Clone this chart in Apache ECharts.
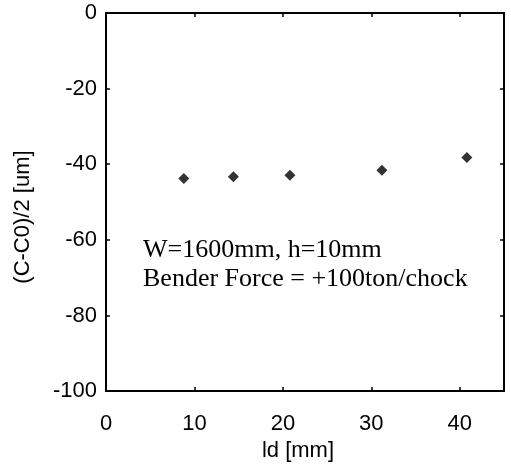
<!DOCTYPE html>
<html>
<head>
<meta charset="utf-8">
<script src="https://cdn.jsdelivr.net/npm/echarts@6/dist/echarts.min.js"></script>
<style>html,body{margin:0;padding:0;background:#fff}#c{width:511px;height:467px}</style>
</head>
<body>
<div id="c"></div>
<script>
var ldValues = [8.8, 14.4, 20.8, 31.2, 40.8];
var deflection = [-43.8, -43.3, -42.9, -41.6, -38.2];
var xTicks = [0, 10, 20, 30, 40];
var yTicks = [0, -20, -40, -60, -80, -100];
var noteLines = ['W=1600mm, h=10mm', 'Bender Force = +100ton/chock'];
var xName = 'ld [mm]';
var yName = '(C-C0)/2 [um]';

var chart = echarts.init(document.getElementById('c'));
var sans = 'Liberation Sans, Arial, sans-serif';
var lineStyle = {color: '#000', width: 2};
var tickStyle = {show: true, inside: true, length: 4, lineStyle: {color: '#000', width: 1.5}};
var pts = ldValues.map(function (x, i) { return [x, deflection[i]]; });

chart.setOption({
  animation: false,
  backgroundColor: '#fff',
  grid: {left: 106, right: 7, top: 13, bottom: 75},
  xAxis: [{
    type: 'value', min: 0, max: 45, interval: 10, position: 'bottom',
    name: xName, nameLocation: 'middle', nameGap: 48,
    nameTextStyle: {fontFamily: sans, fontSize: 22, color: '#000', padding: [0, 14, 0, 0]},
    axisLine: {show: true, onZero: false, lineStyle: lineStyle},
    axisTick: tickStyle,
    splitLine: {show: false},
    axisLabel: {fontFamily: sans, fontSize: 22, color: '#000', margin: 22,
      showMaxLabel: false,
      formatter: function (v) { return xTicks.indexOf(v) >= 0 ? String(v) : ''; }}
  }, {
    type: 'value', min: 0, max: 45, interval: 10, position: 'top',
    axisLine: {show: true, onZero: false, lineStyle: lineStyle},
    axisTick: tickStyle, axisLabel: {show: false}, splitLine: {show: false}
  }],
  yAxis: [{
    type: 'value', min: -100, max: 0, interval: 20, position: 'left',
    name: yName, nameLocation: 'middle', nameGap: 72, nameRotate: 90,
    nameTextStyle: {fontFamily: sans, fontSize: 22, color: '#000', padding: [0, 30, 0, 0]},
    axisLine: {show: true, onZero: false, lineStyle: lineStyle},
    axisTick: tickStyle,
    splitLine: {show: false},
    axisLabel: {fontFamily: sans, fontSize: 22, color: '#000', margin: 9,
      formatter: function (v) { return yTicks.indexOf(v) >= 0 ? String(v) : ''; }}
  }, {
    type: 'value', min: -100, max: 0, interval: 20, position: 'right',
    axisLine: {show: true, onZero: false, lineStyle: lineStyle},
    axisTick: tickStyle, axisLabel: {show: false}, splitLine: {show: false}
  }],
  series: [{
    type: 'scatter',
    data: pts,
    symbol: 'diamond',
    symbolSize: 11,
    itemStyle: {color: '#000'}
  }],
  graphic: [{
    type: 'text', left: 143, top: 236,
    style: {
      text: noteLines.join('\n'),
      font: '26px "Liberation Serif", "Times New Roman", serif',
      lineHeight: 29,
      fill: '#000'
    }
  }]
});
</script>
</body>
</html>
